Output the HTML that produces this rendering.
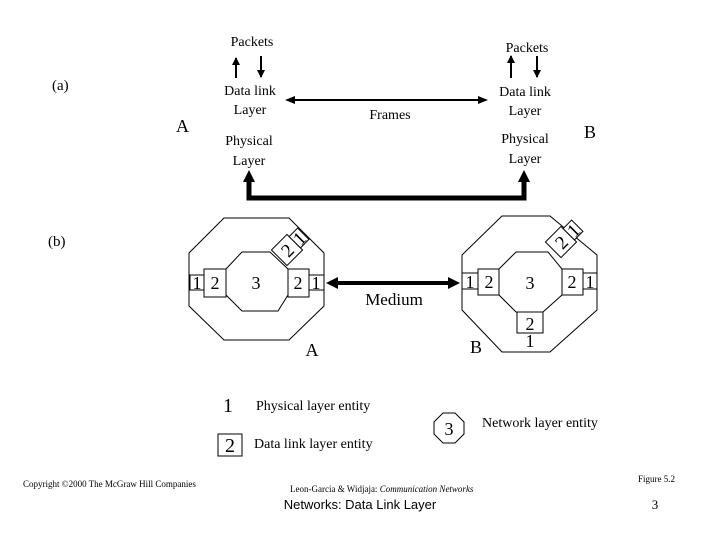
<!DOCTYPE html>
<html><head><style>
body{margin:0;background:#fff}
svg{display:block}
text{font-family:"Liberation Serif",serif;fill:#000}
</style></head><body>
<svg width="720" height="540" viewBox="0 0 720 540" xmlns="http://www.w3.org/2000/svg">
<defs>
<marker id="ah" markerWidth="8" markerHeight="8" refX="7" refY="4" orient="auto" markerUnits="userSpaceOnUse"><path d="M0,0 L8,4 L0,8 z" fill="#000"/></marker>
</defs>
<!-- (a) -->
<text x="52" y="90" font-size="15">(a)</text>
<text x="176" y="132" font-size="18">A</text>
<text x="584" y="138" font-size="18">B</text>
<text x="252" y="46" font-size="14" text-anchor="middle">Packets</text>
<text x="527" y="52" font-size="14" text-anchor="middle">Packets</text>
<line x1="236" y1="78" x2="236" y2="58" stroke="#000" stroke-width="2" marker-end="url(#ah)"/>
<line x1="261" y1="56" x2="261" y2="77" stroke="#000" stroke-width="2" marker-end="url(#ah)"/>
<line x1="511" y1="78" x2="511" y2="56" stroke="#000" stroke-width="2" marker-end="url(#ah)"/>
<line x1="537" y1="56" x2="537" y2="77" stroke="#000" stroke-width="2" marker-end="url(#ah)"/>
<text x="250" y="95" font-size="14" text-anchor="middle">Data link</text>
<text x="250" y="114" font-size="14" text-anchor="middle">Layer</text>
<text x="525" y="96" font-size="14" text-anchor="middle">Data link</text>
<text x="525" y="115" font-size="14" text-anchor="middle">Layer</text>
<text x="249" y="145" font-size="14" text-anchor="middle">Physical</text>
<text x="249" y="165" font-size="14" text-anchor="middle">Layer</text>
<text x="525" y="143" font-size="14" text-anchor="middle">Physical</text>
<text x="525" y="163" font-size="14" text-anchor="middle">Layer</text>
<line x1="295" y1="100" x2="478" y2="100" stroke="#000" stroke-width="2"/>
<path d="M285,100 l10,-4 v8z M488,100 l-10,-4 v8z" fill="#000"/>
<text x="390" y="119" font-size="14" text-anchor="middle">Frames</text>
<path d="M249,181 V198 H524 V181" fill="none" stroke="#000" stroke-width="5"/>
<path d="M249,170 l-6,12 h12z M524,170 l-6,12 h12z" fill="#000"/>
<!-- (b) -->
<text x="48" y="246" font-size="15">(b)</text>
<g fill="none" stroke="#000" stroke-width="1">
<polygon points="224,218 289,218 324,253 324,306 289,340 224,340 189,306 189,253"/>
<polygon points="242,252 270,252 288,269 288,295 278,311 242,311 226,295 226,269"/>
<polygon points="502,216 550,216 597,255 597,310 550,352 502,352 462,310 462,255"/>
<polygon points="516,252 548,252 562,269 562,295 543,312 516,312 499,295 499,269"/>
</g>
<g fill="#fff" stroke="#000" stroke-width="1">
<rect x="190" y="275" width="14" height="15"/><rect x="204" y="269" width="22" height="28"/>
<rect x="288" y="269" width="21" height="28"/><rect x="309" y="275" width="15" height="15"/>
<rect x="462" y="273" width="16" height="16"/><rect x="478" y="269" width="21" height="26"/>
<rect x="562" y="269" width="21" height="26"/><rect x="583" y="273" width="14" height="16"/>
<rect x="517" y="312" width="26" height="21"/>
</g>
<g font-size="18" text-anchor="middle">
<text x="197" y="289">1</text><text x="215" y="289">2</text><text x="256" y="289">3</text>
<text x="298" y="289">2</text><text x="316" y="289">1</text>
<text x="470" y="288">1</text><text x="489" y="288">2</text><text x="530" y="289">3</text>
<text x="572" y="288">2</text><text x="590" y="288">1</text>
<text x="530" y="330">2</text><text x="530" y="347">1</text>
</g>
<g transform="translate(287 250) rotate(-45)">
<rect x="-11" y="-11" width="22" height="22" fill="#fff" stroke="#000"/>
<rect x="11" y="-8" width="12" height="16" fill="#fff" stroke="#000"/>
<text x="0" y="7" font-size="19" text-anchor="middle">2</text>
<text x="17" y="7" font-size="19" text-anchor="middle">1</text>
</g>
<g transform="translate(561 242) rotate(-45)">
<rect x="-11" y="-11" width="22" height="22" fill="#fff" stroke="#000"/>
<rect x="11" y="-8" width="12" height="16" fill="#fff" stroke="#000"/>
<text x="0" y="7" font-size="19" text-anchor="middle">2</text>
<text x="17" y="7" font-size="19" text-anchor="middle">1</text>
</g>
<line x1="336" y1="283" x2="450" y2="283" stroke="#000" stroke-width="4"/>
<path d="M326,283 l12,-6 v12z M460,283 l-12,-6 v12z" fill="#000"/>
<text x="394" y="305" font-size="17" text-anchor="middle">Medium</text>
<text x="312" y="356" font-size="18" text-anchor="middle">A</text>
<text x="476" y="353" font-size="18" text-anchor="middle">B</text>
<!-- legend -->
<text x="228" y="412" font-size="20" text-anchor="middle">1</text>
<text x="256" y="410" font-size="14">Physical layer entity</text>
<rect x="218" y="434" width="24" height="22" fill="none" stroke="#000"/>
<text x="230" y="452" font-size="20" text-anchor="middle">2</text>
<text x="254" y="448" font-size="14">Data link layer entity</text>
<polygon points="443,413 455,413 464,422 464,434 455,443 443,443 434,434 434,422" fill="none" stroke="#000"/>
<text x="449" y="435" font-size="18" text-anchor="middle">3</text>
<text x="482" y="427" font-size="14">Network layer entity</text>
<text x="23" y="487" font-size="9">Copyright ©2000 The McGraw Hill Companies</text>
<text x="290" y="492" font-size="9">Leon-Garcia &amp; Widjaja:  <tspan font-style="italic">Communication Networks</tspan></text>
<text x="360" y="509" font-size="13" text-anchor="middle" style="font-family:'Liberation Sans',sans-serif">Networks: Data Link Layer</text>
<text x="638" y="482" font-size="9">Figure 5.2</text>
<text x="655" y="509" font-size="13" text-anchor="middle">3</text>
</svg>
</body></html>
